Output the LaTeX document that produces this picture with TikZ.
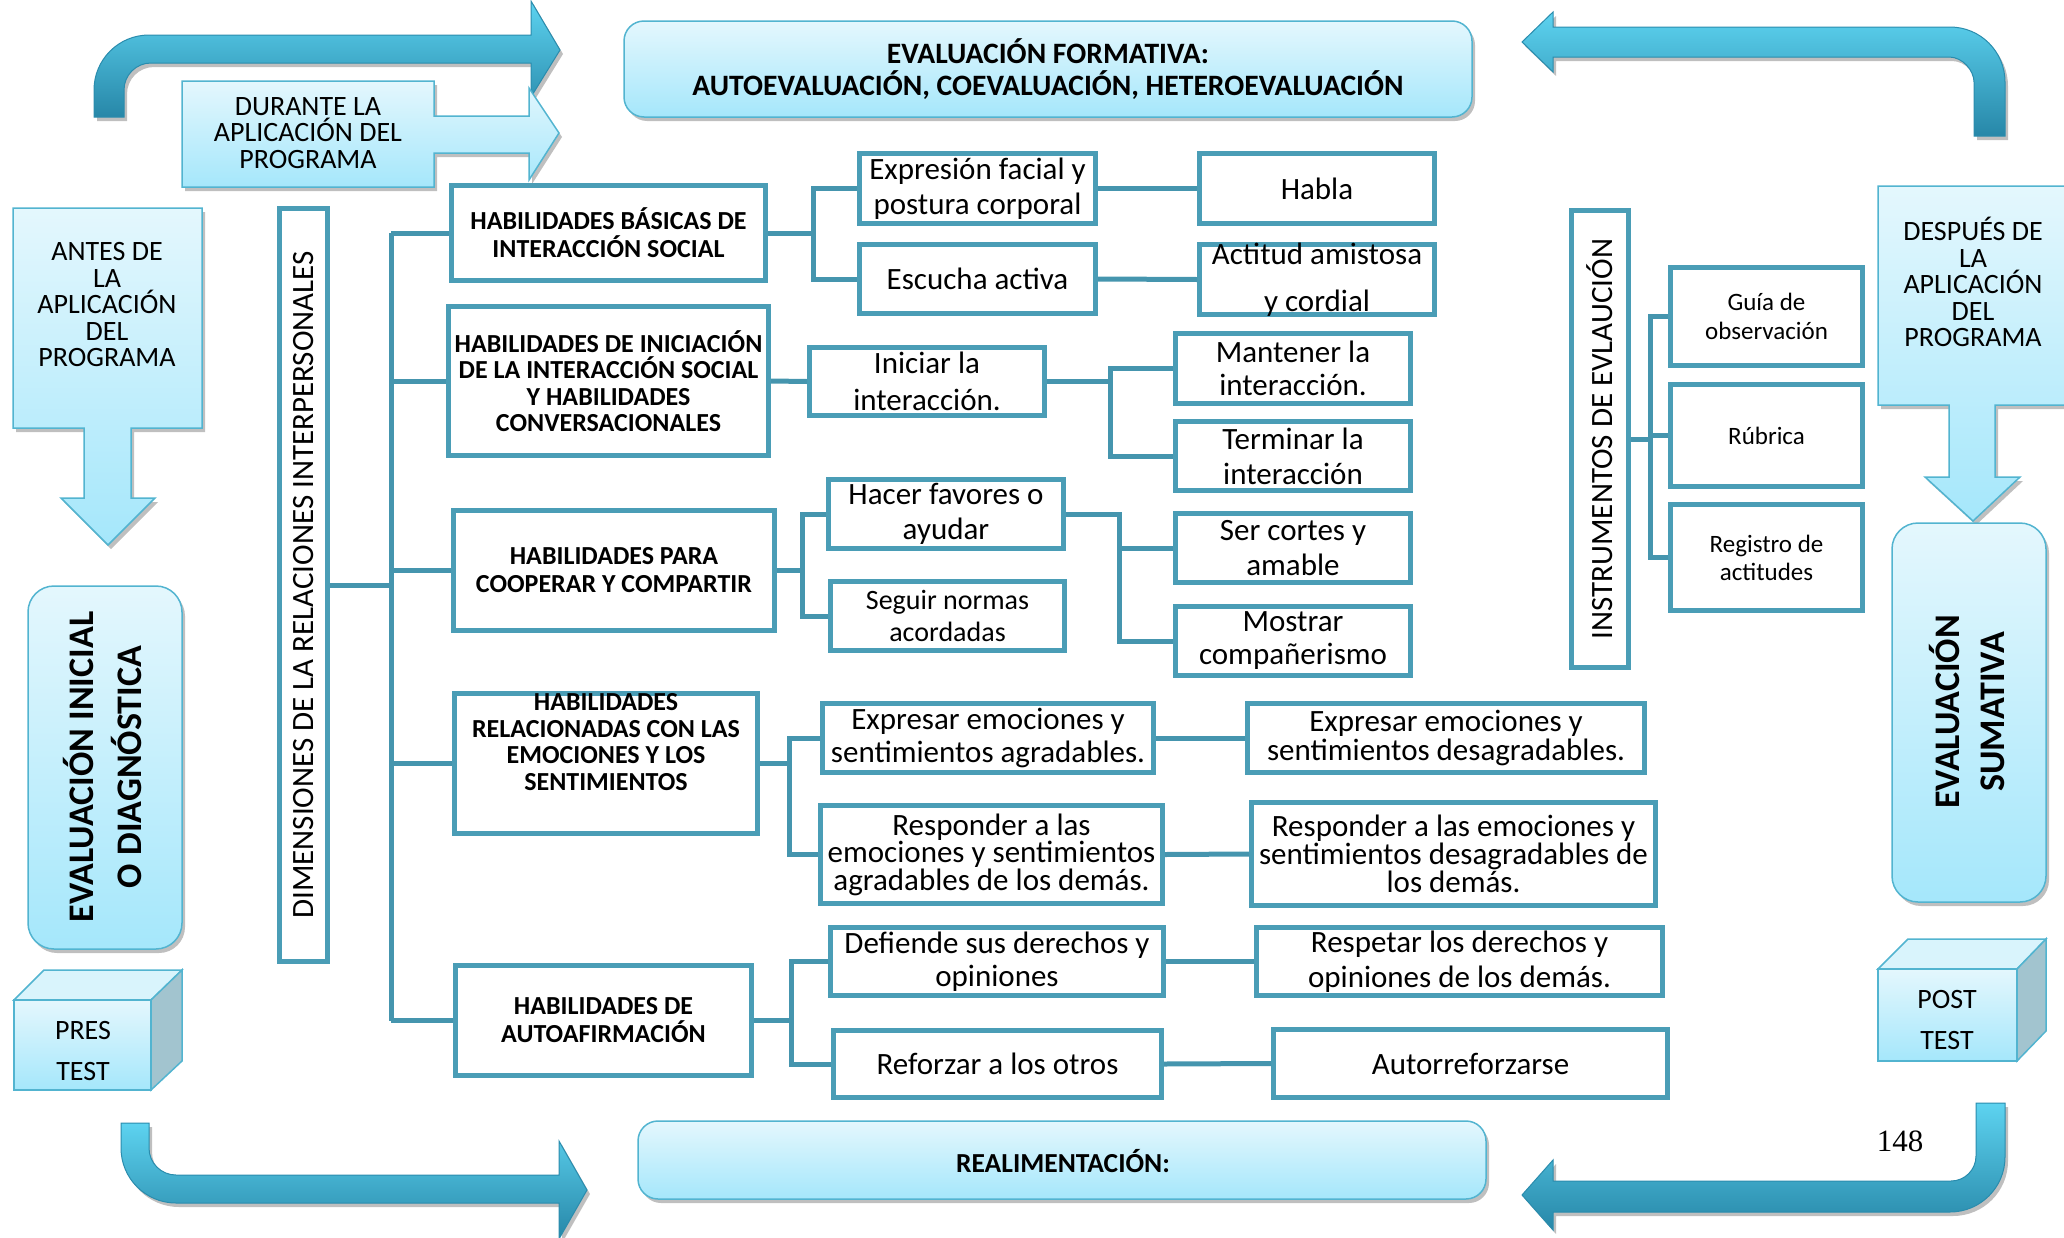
\documentclass[tikz,border=0pt]{standalone}
\usepackage{fontspec}
\setmainfont{Carlito}
\newfontfamily\pagenumfont{Liberation Serif}
\usetikzlibrary{shadows}
\definecolor{boxc}{HTML}{4A9DB6}
\definecolor{connc}{HTML}{4595AE}
\definecolor{gedge}{HTML}{52B4D0}
\definecolor{gtop}{HTML}{E4F7FD}
\definecolor{gbot}{HTML}{A5E7FB}
\definecolor{arrtop}{HTML}{5DD3F0}
\definecolor{arrbot}{HTML}{2787A8}
\definecolor{arredge}{HTML}{2A8CAD}
\definecolor{cubeside}{HTML}{A2C4CF}
\definecolor{cubetop}{HTML}{D9F4FC}
\newcommand\fsz[2]{\fontsize{#1}{#2}\selectfont}
\begin{document}
\begin{tikzpicture}[x=1pt,y=-1pt,
  wbox/.style={draw=boxc, line width=5pt, fill=white, inner sep=0pt, align=center, font=\fsz{31}{35}},
  hbox/.style={wbox, font=\bfseries\fsz{26}{28}},
  ibox/.style={wbox, font=\fsz{25}{29}},
  conn/.style={draw=connc, line width=5pt},
  gfill/.style={draw=gedge, line width=1.5pt, top color=gtop, bottom color=gbot},
  shad/.style={drop shadow={shadow xshift=3pt, shadow yshift=-4pt, opacity=0.25, fill=black}},
  gtext/.style={inner sep=0pt, align=center, font=\fsz{28}{26.5}},
  txt/.style={inner sep=0pt, align=center},
  bigarr/.style={draw=arredge, line width=1pt, top color=arrtop, bottom color=arrbot, shad},
]
\clip (0,0) rectangle (2064,1237);

% ---------- big curved arrows ----------
\path[bigarr] (94,117) -- (94,90) .. controls (94,59.6) and (118.6,35) .. (149,35)
  -- (531,35) -- (531,1) -- (560,50) -- (531,97) -- (531,63) -- (151,63)
  .. controls (136.1,63) and (124,75.1) .. (124,90) -- (124,117) -- cycle;
\path[bigarr] (1522,42) -- (1553,12) -- (1553,27) -- (1950,27)
  .. controls (1980.4,27) and (2005,51.6) .. (2005,82) -- (2005,136) -- (1974,136)
  -- (1974,82) .. controls (1974,70.8) and (1962.8,57) .. (1949,57) -- (1553,57) -- (1553,72) -- cycle;
\path[bigarr] (121,1123) -- (149,1123) -- (149,1148) .. controls (149,1162.9) and (161.1,1175) .. (176,1175)
  -- (559,1175) -- (559,1141) -- (587,1190) -- (559,1239) -- (559,1203) -- (176,1203)
  .. controls (145.6,1203) and (121,1178.4) .. (121,1148) -- cycle;
\path[bigarr] (1976,1103) -- (2005,1103) -- (2005,1157) .. controls (2005,1187.4) and (1980.4,1212) .. (1950,1212)
  -- (1553,1212) -- (1553,1230) -- (1522,1195) -- (1553,1160) -- (1553,1181) -- (1951,1181)
  .. controls (1964.8,1181) and (1976,1169.8) .. (1976,1156) -- cycle;

% ---------- light blue panels ----------
\path[gfill, shad] (182,81) -- (434,81) -- (434,116) -- (529,116) -- (529,88) -- (559,133)
  -- (529,180) -- (529,153) -- (434,153) -- (434,187) -- (182,187) -- cycle;
\node[gtext] (dur) at (308,133) {DURANTE LA\\APLICACIÓN DEL\\PROGRAMA};

\path[gfill, shad] (13,208) -- (202,208) -- (202,428) -- (131,428) -- (131,498) -- (155,498)
  -- (108,545) -- (61,498) -- (84,498) -- (84,428) -- (13,428) -- cycle;
\node[gtext] (antes) at (107,305) {ANTES DE\\LA\\APLICACIÓN\\DEL\\PROGRAMA};

\path[gfill, shad] (1878,186) -- (2070,186) -- (2070,405) -- (1995,405) -- (1995,477) -- (2020,477)
  -- (1973,521) -- (1925,477) -- (1949,477) -- (1949,405) -- (1878,405) -- cycle;
\node[gtext] (desp) at (1973,282) {DESPUÉS DE\\LA\\APLICACIÓN\\DEL\\PROGRAMA};

\node[gfill, shad, rounded corners=20pt, minimum width=848pt, minimum height=96pt, inner sep=0pt,
  align=center, font=\bfseries\fsz{29.6}{32}] (form) at (1048,69)
  {EVALUACIÓN FORMATIVA:\\AUTOEVALUACIÓN, COEVALUACIÓN, HETEROEVALUACIÓN};

\node[gfill, shad, rounded corners=20pt, minimum width=848pt, minimum height=78pt] (real) at (1062,1160) {};
\node[txt, font=\bfseries\fsz{27.5}{30}] (realt) at (1063,1161) {REALIMENTACIÓN:};

\node[gfill, shad, rounded corners=26pt, minimum width=154pt, minimum height=363pt] (ini) at (105,767.5) {};
\node[txt, rotate=90, font=\bfseries\fsz{36}{48}] (init) at (103,767) {EVALUACIÓN INICIAL\\O DIAGNÓSTICA};

\node[gfill, shad, rounded corners=26pt, minimum width=154pt, minimum height=379pt] (sum) at (1969,712.5) {};
\node[txt, rotate=90, font=\bfseries\fsz{36}{45}] (sumt) at (1967,712) {EVALUACIÓN\\SUMATIVA};

% ---------- cubes ----------
\filldraw[draw=gedge, line width=1.5pt, fill=cubetop] (14,1000) -- (44,970) -- (182,970) -- (151,1000) -- cycle;
\filldraw[draw=gedge, line width=1.5pt, fill=cubeside] (151,1000) -- (182,970) -- (182,1061) -- (151,1090) -- cycle;
\path[gfill] (14,1000) rectangle (151,1090);
\node[txt, font=\fsz{28}{41}] (pres) at (83,1051) {PRES\\TEST};

\filldraw[draw=gedge, line width=1.5pt, fill=cubetop] (1878,969) -- (1908,939) -- (2046,939) -- (2017,969) -- cycle;
\filldraw[draw=gedge, line width=1.5pt, fill=cubeside] (2017,969) -- (2046,939) -- (2046,1031) -- (2017,1061) -- cycle;
\path[gfill] (1878,969) rectangle (2017,1061);
\node[txt, font=\fsz{28}{41}] (post) at (1947,1019.5) {POST\\TEST};

% ---------- vertical labels ----------
\node[wbox, rotate=90, minimum width=753pt, minimum height=48pt, font=\fsz{31}{33}] (dim) at (303.5,585)
  {DIMENSIONES DE LA RELACIONES INTERPERSONALES};
\node[wbox, rotate=90, minimum width=457pt, minimum height=57pt, font=\fsz{31}{33}] (inst) at (1600,439)
  {INSTRUMENTOS DE EVLAUCIÓN};

% ---------- skill boxes ----------
\node[hbox, minimum width=314pt, minimum height=95pt] (h1) at (608.5,233) {HABILIDADES BÁSICAS DE\\INTERACCIÓN SOCIAL};
\node[hbox, minimum width=320pt, minimum height=149pt, font=\bfseries\fsz{26}{26.5}] (h2) at (608.5,381)
  {HABILIDADES DE INICIACIÓN\\DE LA INTERACCIÓN SOCIAL\\Y HABILIDADES\\CONVERSACIONALES};
\node[hbox, minimum width=321pt, minimum height=120pt] (h3) at (614,570.5) {HABILIDADES PARA\\COOPERAR Y COMPARTIR};
\node[hbox, minimum width=303pt, minimum height=140pt] (h4) at (606,763.5) {};
\node[txt, font=\bfseries\fsz{26}{26.7}] (h4t) at (606,742) {HABILIDADES\\RELACIONADAS CON LAS\\EMOCIONES Y LOS\\SENTIMIENTOS};
\node[hbox, minimum width=296pt, minimum height=110pt] (h5) at (603.5,1020.5) {HABILIDADES DE\\AUTOAFIRMACIÓN};

\node[wbox, minimum width=236pt, minimum height=70pt] (ef) at (977.5,188.5) {Expresión facial y\\postura corporal};
\node[wbox, minimum width=236pt, minimum height=69pt] (ea) at (977.5,279) {Escucha activa};
\node[wbox, minimum width=235pt, minimum height=70pt] (ha) at (1317,188.5) {Habla};
\node[wbox, minimum width=235pt, minimum height=70pt] (ac) at (1317,279.5) {};
\node[txt, font=\fsz{31}{47}] (act) at (1317,280) {Actitud amistosa\\y cordial};
\node[wbox, minimum width=235pt, minimum height=68pt, font=\fsz{31}{37}] (in) at (927,381.5) {Iniciar la\\interacción.};
\node[wbox, minimum width=235pt, minimum height=70pt, font=\fsz{31}{33}] (ma) at (1293,368.5) {Mantener la\\interacción.};
\node[wbox, minimum width=235pt, minimum height=69pt] (te) at (1293,456) {Terminar la\\interacción};
\node[wbox, minimum width=235pt, minimum height=69pt] (hf) at (946,514) {Hacer favores o\\ayudar};
\node[wbox, minimum width=234pt, minimum height=69pt, font=\fsz{28}{32}] (sn) at (947.5,616) {Seguir normas\\acordadas};
\node[wbox, minimum width=235pt, minimum height=69pt] (sc) at (1293,548) {Ser cortes y\\amable};
\node[wbox, minimum width=235pt, minimum height=69pt, font=\fsz{31}{33}] (mc) at (1293,641) {Mostrar\\compañerismo};
\node[wbox, minimum width=331pt, minimum height=69pt, font=\fsz{31}{33}] (ee) at (988,738) {Expresar emociones y\\sentimientos agradables.};
\node[wbox, minimum width=342pt, minimum height=98pt, font=\fsz{31}{27.5}] (ra) at (991.5,854.5) {Responder a las\\emociones y sentimientos\\agradables de los demás.};
\node[wbox, minimum width=397pt, minimum height=69pt, font=\fsz{31}{29}] (ed) at (1446,738) {Expresar emociones y\\sentimientos desagradables.};
\node[wbox, minimum width=404pt, minimum height=103pt, font=\fsz{31}{26.5}] (rd) at (1453.5,854) {Responder a las emociones y\\sentimientos desagradables de\\los demás.};
\node[wbox, minimum width=333pt, minimum height=68pt, font=\fsz{31}{33}] (dd) at (997,961.5) {Defiende sus derechos y\\opiniones};
\node[wbox, minimum width=328pt, minimum height=67pt] (ro) at (997.5,1064) {Reforzar a los otros};
\node[wbox, minimum width=406pt, minimum height=68pt] (re) at (1459.5,961.5) {Respetar los derechos y\\opiniones de los demás.};
\node[wbox, minimum width=394pt, minimum height=68pt] (au) at (1470.5,1063.5) {Autorreforzarse};

\node[ibox, minimum width=192pt, minimum height=98pt] (go) at (1766.5,316.5) {Guía de\\observación};
\node[ibox, minimum width=192pt, minimum height=102pt] (ru) at (1766.5,435.5) {Rúbrica};
\node[ibox, minimum width=192pt, minimum height=106pt, font=\fsz{25}{28}] (rg) at (1766.5,557.5) {Registro de\\actitudes};

% ---------- connectors ----------
\coordinate (t1) at (391,233);
\coordinate (t5) at (391,1020.5);
\draw[conn] (t1) -- (t5);
\draw[conn] (dim) -- (dim -| t1);
\draw[conn] (h1.west -| t1) -- (h1.west);
\draw[conn] (h2.west -| t1) -- (h2.west);
\draw[conn] (h3.west -| t1) -- (h3.west);
\draw[conn] (h4.west -| t1) -- (h4.west);
\draw[conn] (h5.west -| t1) -- (h5.west);

\coordinate (f1) at (813,233);
\draw[conn] (h1.east) -- (f1);
\draw[conn] (ef.west) -| (f1) |- (ea.west);
\draw[conn] (ef.east) -- (ha.west);
\draw[conn] (ea.east) -- (ac.west);

\draw[conn] (h2.east) -- (in.west);
\coordinate (f2) at (1110,381.5);
\draw[conn] (in.east) -- (f2);
\draw[conn] (ma.west) -| (f2) |- (te.west);

\coordinate (f3) at (802,570.5);
\draw[conn] (h3.east) -- (f3);
\draw[conn] (hf.west) -| (f3) |- (sn.west);
\coordinate (f4) at (1119,641);
\draw[conn] (hf.east) -| (f4) -- (mc.west);
\draw[conn] (sc.west) -- (sc.west -| f4);

\coordinate (f5) at (789,763.5);
\draw[conn] (h4.east) -- (f5);
\draw[conn] (ee.west) -| (f5) |- (ra.west);
\draw[conn] (ee.east) -- (ed.west);
\draw[conn] (ra.east) -- (rd.west);

\coordinate (f6) at (791,1020.5);
\draw[conn] (h5.east) -- (f6);
\draw[conn] (dd.west) -| (f6) |- (ro.west);
\draw[conn] (dd.east) -- (re.west);
\draw[conn] (ro.east) -- (au.west);

\coordinate (f7) at (1650,439);
\draw[conn] (inst) -- (f7);
\draw[conn] (go.west) -| (f7) |- (rg.west);
\draw[conn] (ru.west) -- (ru.west -| f7);

% ---------- page number ----------
\node[txt, font=\pagenumfont\fsz{31}{33}] (pg) at (1900,1141) {148};
\end{tikzpicture}
\end{document}
